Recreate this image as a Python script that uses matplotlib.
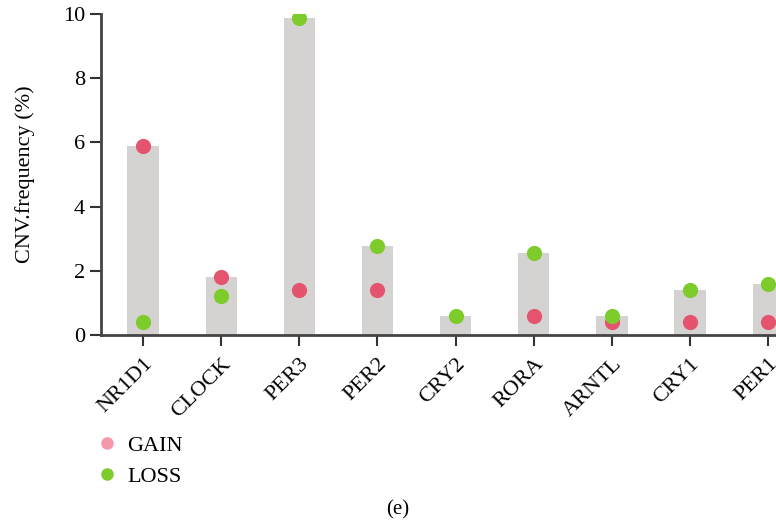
import numpy as np
import matplotlib
matplotlib.use("Agg")
import matplotlib.pyplot as plt
from matplotlib.lines import Line2D

genes = ["NR1D1", "CLOCK", "PER3", "PER2", "CRY2", "RORA", "ARNTL", "CRY1", "PER1"]
gain = [5.9, 1.8, 1.4, 1.4, np.nan, 0.6, 0.4, 0.4, 0.4]
loss = [0.4, 1.2, 9.87, 2.78, 0.6, 2.57, 0.6, 1.4, 1.58]

plt.rcParams['font.family'] = ['Liberation Serif', 'DejaVu Serif']

fig = plt.figure(figsize=(7.76, 5.25), dpi=100)
ax = fig.add_axes([0.130, 0.362, 0.870, 0.611])

x = np.arange(len(genes))
top = np.nanmax(np.vstack([gain, loss]), axis=0)
ax.bar(x, top, width=0.4, color="#d4d3d2", zorder=1)
ax.scatter(x, gain, s=120, color="#e5546f", zorder=3, linewidths=0)
ax.scatter(x, loss, s=120, color="#7ecb2c", zorder=3, linewidths=0)

ax.set_xlim(-0.54, 8.1)
ax.set_ylim(0, 10)
ax.set_yticks([0, 2, 4, 6, 8, 10])
ax.set_xticks(x)
ax.set_xticklabels(genes, rotation=45, ha="right", rotation_mode="anchor")
ax.tick_params(axis="both", labelsize=16, length=8, width=1.5, color="#333333", direction="out")
ax.tick_params(axis="x", pad=6)
for s in ["top", "right"]:
    ax.spines[s].set_visible(False)
for s in ["left", "bottom"]:
    ax.spines[s].set_linewidth(2)
    ax.spines[s].set_color("#444444")
ax.set_ylabel("CNV.frequency (%)", fontsize=16, labelpad=20)

handles = [Line2D([], [], marker="o", linestyle="", markersize=8, color="#f598ab"),
           Line2D([], [], marker="o", linestyle="", markersize=8, color="#7ecb2c")]
fig.legend(handles, ["GAIN", "LOSS"], loc="upper left", bbox_to_anchor=(0.107, 0.187),
           frameon=False, fontsize=16, handletextpad=0.2, labelspacing=0.45,
           borderaxespad=0, handlelength=1.4)

fig.text(0.513, 0.028, "(e)", ha="center", va="center", fontsize=15)

fig.savefig("out.png", dpi=100)
